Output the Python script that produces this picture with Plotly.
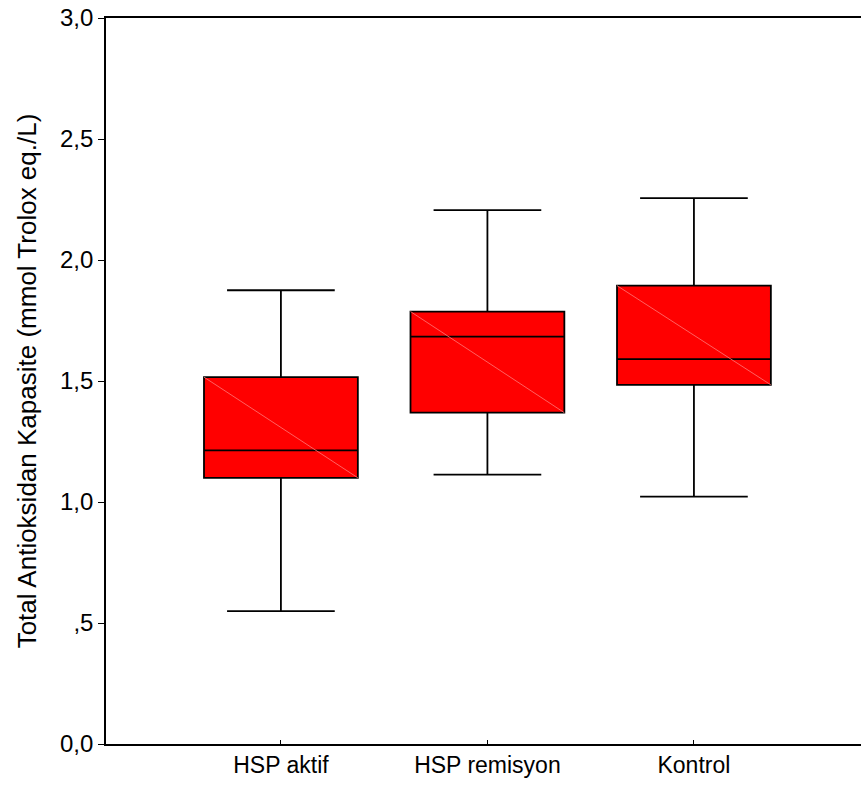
import plotly.graph_objects as go

# Group names and box-plot summary statistics (mmol Trolox eq./L)
categories = ["HSP aktif", "HSP remisyon", "Kontrol"]
lower_whisker = [0.549, 1.113, 1.022]
q1_values = [1.100, 1.369, 1.484]
median_values = [1.213, 1.683, 1.590]
q3_values = [1.516, 1.787, 1.894]
upper_whisker = [1.875, 2.206, 2.256]

y_tick_vals = [0.0, 0.5, 1.0, 1.5, 2.0, 2.5, 3.0]
y_tick_text = ["0,0", ",5", "1,0", "1,5", "2,0", "2,5", "3,0"]

BOX_WIDTH = 0.745
FONT = "Liberation Sans, Arial, sans-serif"

fig = go.Figure()

for i, name in enumerate(categories):
    fig.add_trace(go.Box(
        x=[i],
        q1=[q1_values[i]],
        median=[median_values[i]],
        q3=[q3_values[i]],
        lowerfence=[lower_whisker[i]],
        upperfence=[upper_whisker[i]],
        name=name,
        width=BOX_WIDTH,
        whiskerwidth=0.70,
        fillcolor="#ff0000",
        line=dict(color="#000000", width=1.8),
        boxpoints=False,
        hoverinfo="skip",
        showlegend=False,
    ))
    # faint diagonal stroke across the box face
    fig.add_trace(go.Scatter(
        x=[i - BOX_WIDTH / 2, i + BOX_WIDTH / 2],
        y=[q3_values[i], q1_values[i]],
        mode="lines",
        line=dict(color="rgba(255,120,120,0.8)", width=1),
        hoverinfo="skip",
        showlegend=False,
    ))

fig.update_layout(
    width=861,
    height=794,
    margin=dict(l=106, r=0, t=18, b=50),
    paper_bgcolor="white",
    plot_bgcolor="white",
    font=dict(family=FONT, size=23, color="black"),
    xaxis=dict(
        range=[-0.847, 2.809],
        tickvals=list(range(len(categories))),
        ticktext=categories,
        ticks="inside",
        ticklen=4,
        tickwidth=1,
        tickcolor="black",
        showline=True,
        linecolor="black",
        linewidth=1.6,
        mirror=True,
        showgrid=False,
        zeroline=False,
        tickfont=dict(size=23),
    ),
    yaxis=dict(
        range=[0, 3.0],
        tickvals=y_tick_vals,
        ticktext=y_tick_text,
        ticks="outside",
        ticklen=6,
        tickwidth=1,
        tickcolor="black",
        showline=True,
        linecolor="black",
        linewidth=1.6,
        showgrid=False,
        zeroline=False,
        tickfont=dict(size=24),
        title=dict(
            text="Total Antioksidan Kapasite (mmol Trolox eq./L)",
            font=dict(size=26),
            standoff=16,
        ),
    ),
)

fig.write_html("out.html")
